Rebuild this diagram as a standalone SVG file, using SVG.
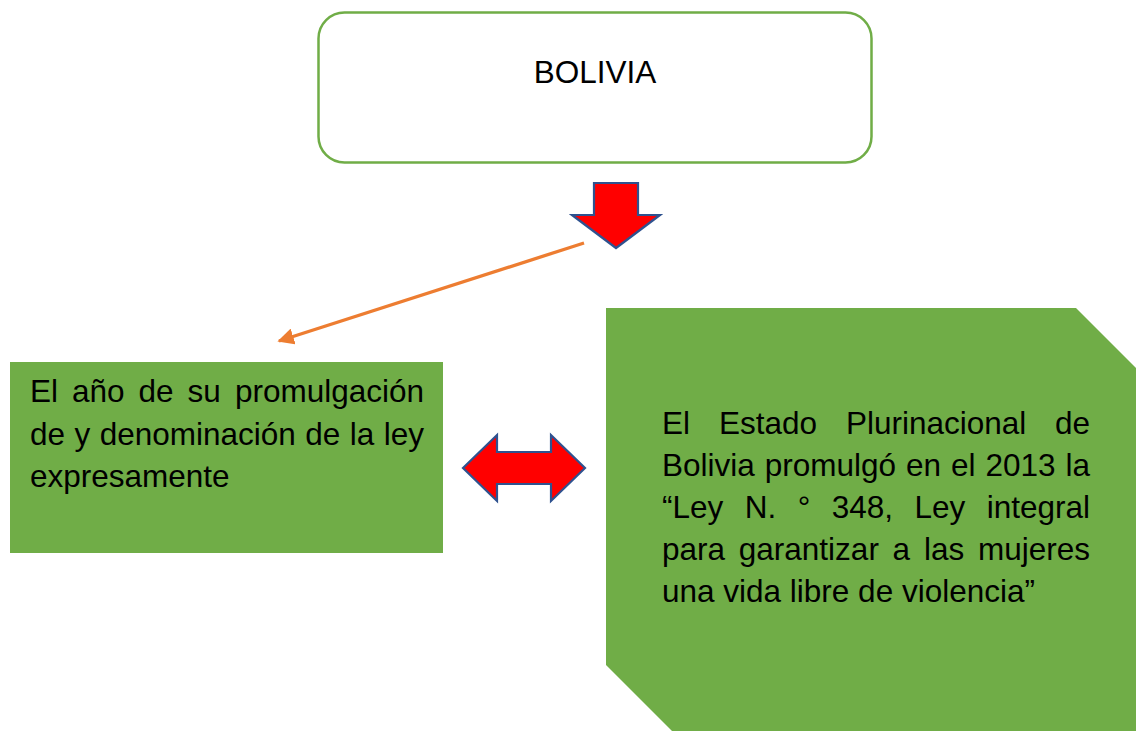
<svg xmlns="http://www.w3.org/2000/svg" width="1136" height="731" viewBox="0 0 1136 731">
<style>
.t{font-family:"Liberation Sans",Arial,sans-serif;font-size:31.5px;fill:#000}
.green{fill:#70AD47}
.red{fill:#FF0000;stroke:#2F528F;stroke-width:2.2;stroke-linejoin:miter}
</style>
<defs>
<marker id="oarrow" viewBox="0 0 10 10" refX="9" refY="5" markerWidth="5" markerHeight="5" orient="auto" markerUnits="strokeWidth">
<path d="M0,0 L10,5 L0,10 z" fill="#ED7D31"/>
</marker>
</defs>
<rect width="1136" height="731" fill="#fff"/>
<g id="bolivia">
<rect x="318.5" y="12.5" width="553" height="150" rx="26" ry="26" fill="#fff" stroke="#70AD47" stroke-width="2.5"/>
<text class="t" x="595" y="83" text-anchor="middle">BOLIVIA</text>
</g>
<g id="left-box">
<rect class="green" x="10" y="362" width="433" height="191"/>
<text class="t" y="402"><tspan x="30">El</tspan><tspan x="72">año</tspan><tspan x="138.5">de</tspan><tspan x="187.5">su</tspan><tspan x="424" text-anchor="end">promulgación</tspan></text>
<text class="t" x="30" y="444.5" word-spacing="0.7">de y denominación de la ley</text>
<text class="t" x="30" y="487">expresamente</text>
</g>
<g id="right-box">
<polygon class="green" points="606,308 1076,308 1140,372 1140,735 676,735 606,665"/>
<text class="t" y="434"><tspan x="662">El</tspan><tspan x="718.9">Estado</tspan><tspan x="845.9">Plurinacional</tspan><tspan x="1090" text-anchor="end">de</tspan></text>
<text class="t" x="662" y="476" word-spacing="1.2">Bolivia promulgó en el 2013 la</text>
<text class="t" y="518"><tspan x="662">“Ley</tspan><tspan x="744.7">N.</tspan><tspan x="797.7">°</tspan><tspan x="831.7">348,</tspan><tspan x="914.5">Ley</tspan><tspan x="1090" text-anchor="end">integral</tspan></text>
<text class="t" y="560"><tspan x="662">para</tspan><tspan x="738.8">garantizar</tspan><tspan x="892.6">a</tspan><tspan x="923.9">las</tspan><tspan x="1090" text-anchor="end">mujeres</tspan></text>
<text class="t" x="662" y="602">una vida libre de violencia”</text>
</g>
<g id="connectors">
<polygon class="red" points="594,183 638,183 638,215 660,215 616,248 572,215 594,215"/>
<line x1="584" y1="243" x2="279" y2="341" stroke="#ED7D31" stroke-width="3.3" marker-end="url(#oarrow)"/>
<polygon class="red" points="463,468 497,435 497,452 551,452 551,435 585,468 551,501 551,484 497,484 497,501"/>
</g>
</svg>
